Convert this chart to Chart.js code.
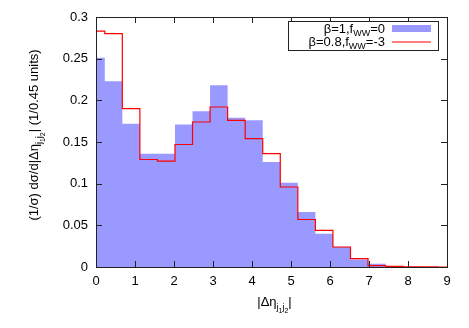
<!DOCTYPE html>
<html>
<head>
<meta charset="utf-8">
<script src="https://cdn.jsdelivr.net/npm/chart.js@4.4.1/dist/chart.umd.min.js"></script>
<style>
  body { margin: 0; background: #fff; }
  canvas { display: block; }
</style>
</head>
<body>
<canvas id="histChart" width="469" height="328"></canvas>
<script>
// bin centres of |Delta eta_j1j2| (bins of 0.45)
const binCenters = [0, 0.45, 0.9, 1.35, 1.8, 2.25, 2.7, 3.15, 3.6, 4.05, 4.5,
                    4.95, 5.4, 5.85, 6.3, 6.75, 7.2, 7.65, 8.1, 8.55, 9.0]

// beta=1, fWW=0 (filled blue)
const smValues = [0.251, 0.223, 0.172, 0.136, 0.136, 0.171, 0.187, 0.218, 0.179, 0.176, 0.126,
                  0.101, 0.066, 0.040, 0.024, 0.009, 0.004, 0.0012, 0.0003, 0.0001, 0]

// beta=0.8, fWW=-3 (red steps)
const bsmValues = [0.283, 0.280, 0.190, 0.129, 0.127, 0.147, 0.174, 0.192, 0.176, 0.154, 0.136,
                   0.096, 0.057, 0.044, 0.024, 0.010, 0.0016, 0.0008, 0.0002, 0.0001, 0]

const xTicks = [0, 1, 2, 3, 4, 5, 6, 7, 8, 9]
const yTicks = [0, 0.05, 0.1, 0.15, 0.2, 0.25, 0.3]

const FONT = '"Liberation Sans", Arial, Helvetica, sans-serif'

// draws text pieces with sub / subsub levels, centred on cx at baseline by
function richText(ctx, parts, cx, by){
    const sizes = [13, 9, 7]
    const drops = [0, 4, 6.5]
    let total = 0
    parts.forEach(p => {
        ctx.font = sizes[p[1]] + 'px ' + FONT
        total += ctx.measureText(p[0]).width
    })
    let x = cx - total / 2
    ctx.textAlign = 'left'
    ctx.textBaseline = 'alphabetic'
    parts.forEach(p => {
        ctx.font = sizes[p[1]] + 'px ' + FONT
        ctx.fillText(p[0], x, by + drops[p[1]])
        x += ctx.measureText(p[0]).width
    })
}

function rightText(ctx, parts, rx, by){
    const sizes = [13, 9]
    const drops = [0, 3]
    let total = 0
    parts.forEach(p => {
        ctx.font = sizes[p[1]] + 'px ' + FONT
        total += ctx.measureText(p[0]).width
    })
    let x = rx - total
    ctx.textAlign = 'left'
    ctx.textBaseline = 'alphabetic'
    parts.forEach(p => {
        ctx.font = sizes[p[1]] + 'px ' + FONT
        ctx.fillText(p[0], x, by + drops[p[1]])
        x += ctx.measureText(p[0]).width
    })
}

const framePlugin = {
    id: 'frame',
    afterDraw(chart){
        const ctx = chart.ctx
        const a = chart.chartArea
        const xs = chart.scales.x
        const ys = chart.scales.y
        ctx.save()
        ctx.strokeStyle = '#222'
        ctx.lineWidth = 1
        ctx.beginPath()
        // inward ticks, mirrored
        xTicks.forEach(v => {
            const px = Math.round(xs.getPixelForValue(v)) + 0.5
            ctx.moveTo(px, a.bottom); ctx.lineTo(px, a.bottom - 6)
            ctx.moveTo(px, a.top); ctx.lineTo(px, a.top + 6)
        })
        yTicks.forEach(v => {
            const py = Math.round(ys.getPixelForValue(v)) + 0.5
            ctx.moveTo(a.left, py); ctx.lineTo(a.left + 6, py)
            ctx.moveTo(a.right, py); ctx.lineTo(a.right - 6, py)
        })
        ctx.stroke()
        ctx.strokeRect(Math.round(a.left) + 0.5, Math.round(a.top) + 0.5,
                       Math.round(a.right - a.left), Math.round(a.bottom - a.top))

        // legend
        ctx.fillStyle = '#fff'
        ctx.fillRect(288, 21, 150, 29)
        ctx.strokeStyle = '#222'
        ctx.strokeRect(288.5, 21.5, 150, 29)
        ctx.fillStyle = '#000'
        rightText(ctx, [['\u03b2=1,f', 0], ['WW', 1], ['=0', 0]], 385, 33)
        rightText(ctx, [['\u03b2=0.8,f', 0], ['WW', 1], ['=-3', 0]], 385, 45.5)
        ctx.fillStyle = '#9999ff'
        ctx.fillRect(392, 25, 39, 7)
        ctx.strokeStyle = '#ff0000'
        ctx.lineWidth = 1.2
        ctx.beginPath()
        ctx.moveTo(392, 42); ctx.lineTo(431, 42)
        ctx.stroke()

        // axis titles
        ctx.fillStyle = '#000'
        richText(ctx, [['|\u0394\u03b7', 0], ['j', 1], ['1', 2], ['j', 1], ['2', 2], ['|', 0]],
                 (a.left + a.right) / 2 + 3, 306)
        ctx.translate(38, (a.top + a.bottom) / 2 - 7)
        ctx.rotate(-Math.PI / 2)
        richText(ctx, [['(1/\u03c3) d\u03c3/d|\u0394\u03b7', 0], ['j', 1], ['1', 2], ['j', 1], ['2', 2],
                       ['| (1/0.45 units)', 0]], 0, 0)
        ctx.restore()
    }
}

const toPoints = vals => binCenters.map((x, i) => ({x: x, y: vals[i]}))

new Chart(document.getElementById('histChart'), {
    type: 'line',
    data: {
        datasets: [{
            label: '\u03b2=0.8,fWW=-3',
            data: toPoints(bsmValues),
            stepped: 'middle',
            borderColor: '#ff0000',
            borderWidth: 1.2,
            pointRadius: 0,
            fill: false
        }, {
            label: '\u03b2=1,fWW=0',
            data: toPoints(smValues),
            stepped: 'middle',
            borderColor: 'rgba(0,0,0,0)',
            borderWidth: 0,
            backgroundColor: '#9999ff',
            pointRadius: 0,
            fill: 'origin'
        }]
    },
    options: {
        responsive: false,
        animation: false,
        layout: {padding: {top: 17, right: 22, left: 0, bottom: 0}},
        plugins: {legend: {display: false}, tooltip: {enabled: false}},
        scales: {
            x: {
                type: 'linear', min: 0, max: 9,
                afterBuildTicks: s => { s.ticks = xTicks.map(v => ({value: v})) },
                ticks: {padding: 7, color: '#000', font: {size: 13, family: FONT}},
                grid: {display: false, drawTicks: false},
                border: {display: false},
                afterFit: s => { s.height = 61 }
            },
            y: {
                min: 0, max: 0.3,
                afterBuildTicks: s => { s.ticks = yTicks.map(v => ({value: v})) },
                ticks: {padding: 8, color: '#000', font: {size: 13, family: FONT},
                        callback: v => String(+v.toFixed(2))},
                grid: {display: false, drawTicks: false},
                border: {display: false},
                afterFit: s => { s.width = 96 }
            }
        }
    },
    plugins: [framePlugin]
})
</script>
</body>
</html>
